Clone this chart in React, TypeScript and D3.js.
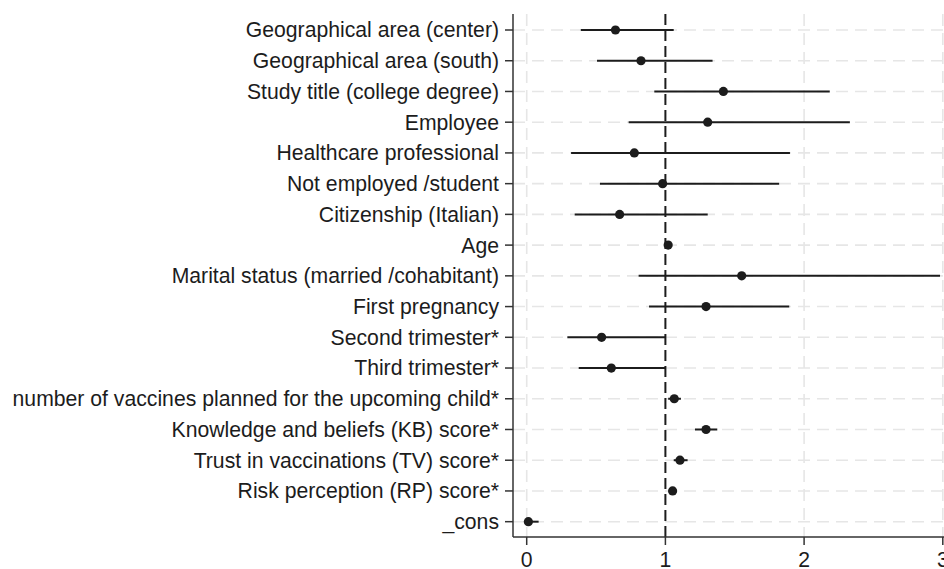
import React from "react";
import * as d3 from "d3";

const categories = [
  "Geographical area (center)",
  "Geographical area (south)",
  "Study title (college degree)",
  "Employee",
  "Healthcare professional",
  "Not employed /student",
  "Citizenship (Italian)",
  "Age",
  "Marital status (married /cohabitant)",
  "First pregnancy",
  "Second trimester*",
  "Third trimester*",
  "number of vaccines planned for the upcoming child*",
  "Knowledge and beliefs (KB) score*",
  "Trust in vaccinations (TV) score*",
  "Risk perception (RP) score*",
  "_cons",
];
const estimates = [0.64, 0.824, 1.418, 1.305, 0.776, 0.98, 0.67, 1.02, 1.55, 1.293, 0.54, 0.61, 1.064, 1.293, 1.105, 1.052, 0.012];
const lower = [0.39, 0.507, 0.92, 0.735, 0.32, 0.528, 0.346, 1.01, 0.807, 0.882, 0.293, 0.375, 1.02, 1.213, 1.06, 1.04, 0.0];
const upper = [1.06, 1.34, 2.185, 2.33, 1.898, 1.82, 1.305, 1.03, 2.98, 1.893, 1.0, 1.0, 1.112, 1.374, 1.16, 1.068, 0.086];
const xTicks = [0, 1, 2, 3];
const refValue = 1;

const W = 944;
const H = 569;
const axisX = 513;
const plotTop = 14;
const plotBottom = 537;

export default function App() {
  const x = d3.scaleLinear().domain([0, 3]).range([526.7, 942.8]);
  const y = d3
    .scalePoint<string>()
    .domain(categories)
    .range([30, 30 + 16 * 30.73]);
  const font = "'Liberation Sans', Arial, Helvetica, sans-serif";
  const grid = "#e6e6e6";
  const ink = "#1c1c1c";

  return (
    <svg
      width={W}
      height={H}
      style={{ position: "absolute", left: 0, top: 0, background: "#fff" }}
      fontFamily={font}
    >
      <rect width={W} height={H} fill="#fff" />
      {categories.map((c) => (
        <line
          key={"hg" + c}
          x1={axisX}
          x2={W}
          y1={y(c)}
          y2={y(c)}
          stroke={grid}
          strokeWidth={1.6}
          strokeDasharray="12 7"
        />
      ))}
      {xTicks
        .filter((t) => t !== refValue)
        .map((t) => (
          <line
            key={"vg" + t}
            x1={x(t)}
            x2={x(t)}
            y1={plotTop}
            y2={plotBottom}
            stroke={grid}
            strokeWidth={1.6}
            strokeDasharray="12 7"
          />
        ))}
      <line
        x1={x(refValue)}
        x2={x(refValue)}
        y1={plotTop}
        y2={plotBottom}
        stroke={ink}
        strokeWidth={2}
        strokeDasharray="11 5"
      />
      {categories.map((c, i) => (
        <line
          key={"ci" + c}
          x1={x(lower[i])}
          x2={x(upper[i])}
          y1={y(c)}
          y2={y(c)}
          stroke={ink}
          strokeWidth={2}
        />
      ))}
      {categories.map((c, i) => (
        <circle key={"pt" + c} cx={x(estimates[i])} cy={y(c)} r={4.6} fill={ink} />
      ))}
      <line x1={axisX} x2={axisX} y1={plotTop} y2={plotBottom} stroke="#333" strokeWidth={1.5} />
      <line x1={axisX} x2={W} y1={plotBottom} y2={plotBottom} stroke="#333" strokeWidth={1.5} />
      {categories.map((c) => (
        <g key={"yl" + c}>
          <line x1={axisX - 8} x2={axisX} y1={y(c)} y2={y(c)} stroke="#333" strokeWidth={1.5} />
          <text
            x={axisX - 14}
            y={y(c)}
            dy="0.35em"
            textAnchor="end"
            fontSize={21.2}
            fill={ink}
          >
            {c}
          </text>
        </g>
      ))}
      {xTicks.map((t) => (
        <g key={"xt" + t}>
          <line x1={x(t)} x2={x(t)} y1={plotBottom} y2={plotBottom + 8} stroke="#333" strokeWidth={1.5} />
          <text x={x(t)} y={567} textAnchor="middle" fontSize={21.2} fill={ink}>
            {t}
          </text>
        </g>
      ))}
    </svg>
  );
}
